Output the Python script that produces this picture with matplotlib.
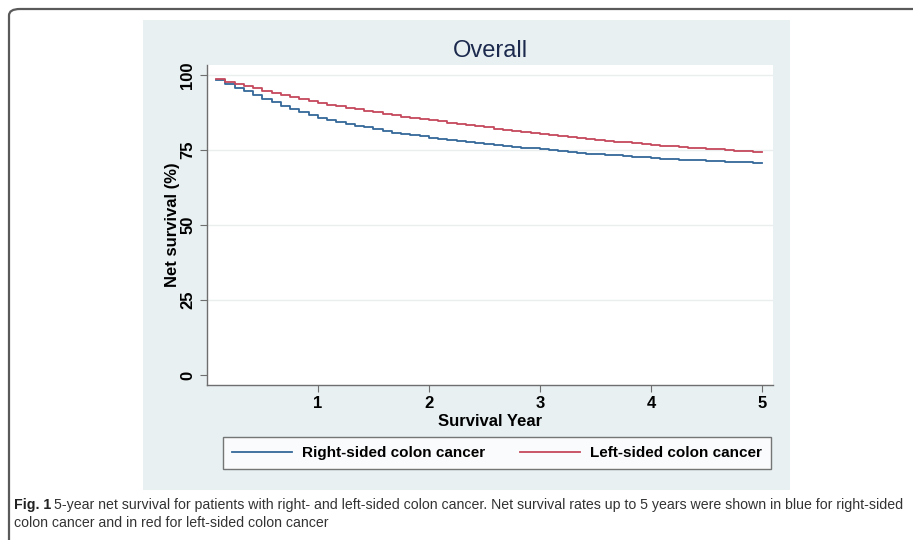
import numpy as np
import matplotlib
matplotlib.use("Agg")
import matplotlib.pyplot as plt
from matplotlib.patches import Rectangle, FancyBboxPatch

plt.rcParams['font.family'] = ['Liberation Sans', 'DejaVu Sans']

# net survival (%) at the end of each month, months 1..60
months = np.arange(1, 61)
right_sided = [98.3, 97.0, 95.7, 94.5, 93.3, 92.1, 90.9, 89.8, 88.7, 87.6, 86.6, 85.6,
               84.9, 84.3, 83.7, 83.1, 82.6, 81.9, 81.3, 80.8, 80.3, 79.9, 79.5, 79.1,
               78.7, 78.3, 77.9, 77.6, 77.3, 77.0, 76.7, 76.4, 76.1, 75.8, 75.5, 75.2,
               74.9, 74.6, 74.3, 74.1, 73.8, 73.6, 73.4, 73.2, 72.9, 72.7, 72.5, 72.3,
               72.1, 72.0, 71.8, 71.7, 71.5, 71.4, 71.3, 71.1, 71.0, 70.9, 70.7, 70.6]
left_sided = [98.6, 97.8, 97.0, 96.2, 95.5, 94.8, 94.0, 93.3, 92.6, 91.9, 91.2, 90.6,
              90.0, 89.5, 89.0, 88.5, 88.0, 87.5, 87.0, 86.6, 86.1, 85.7, 85.3, 84.9,
              84.5, 84.1, 83.7, 83.3, 82.9, 82.5, 82.1, 81.7, 81.3, 80.9, 80.6, 80.2,
              79.9, 79.6, 79.3, 79.0, 78.7, 78.4, 78.1, 77.8, 77.5, 77.2, 76.9, 76.6,
              76.4, 76.2, 76.0, 75.8, 75.6, 75.4, 75.2, 75.0, 74.8, 74.6, 74.4, 74.2]
years = months / 12.0

W, H = 913, 540
fig = plt.figure(figsize=(W / 100, H / 100), dpi=100)

def fx(px):
    return px / W

def fy(py):
    return 1 - py / H

# outer frame with rounded corner
fig.patches.append(FancyBboxPatch((fx(9), fy(560)), fx(940), 551 / H,
                                  boxstyle="round,pad=0,rounding_size=0.012",
                                  transform=fig.transFigure, facecolor='white',
                                  edgecolor='#5a5a5a', lw=1.6, zorder=-2))
# graph region background
fig.patches.append(Rectangle((fx(143), fy(490)), fx(790 - 143), 470 / H,
                             transform=fig.transFigure, facecolor='#e8f0f2',
                             edgecolor='none', zorder=-1))

ax = fig.add_axes([fx(207), fy(385), fx(773 - 207), 320 / H])
ax.set_zorder(2)
ax.set_facecolor('white')

ax.step(years, right_sided, where='post', color='#35689a', lw=1.3,
        label='Right-sided colon cancer')
ax.step(years, left_sided, where='post', color='#c4485c', lw=1.3,
        label='Left-sided colon cancer')

ax.set_xlim(0, 5.1)
ax.set_ylim(-3.33, 103.33)
ax.set_xticks([1, 2, 3, 4, 5])
ax.set_yticks([0, 25, 50, 75, 100])
for yv in [25, 50, 75, 100]:
    ax.axhline(yv, color='#eaeeee', lw=1.0, zorder=0)

for s in ['top', 'right']:
    ax.spines[s].set_visible(False)
for s in ['left', 'bottom']:
    ax.spines[s].set_color('#6e6e6e')
    ax.spines[s].set_linewidth(1.0)
ax.tick_params(axis='both', direction='out', length=5, color='#6e6e6e',
               labelsize=12, labelcolor='black')
ax.tick_params(axis='x', pad=3)
for lbl in ax.get_yticklabels():
    lbl.set_rotation(90)
    lbl.set_va('center')
for lbl in ax.get_xticklabels() + ax.get_yticklabels():
    lbl.set_fontweight('bold')

ax.set_xlabel('Survival Year', fontsize=12, fontweight='bold', labelpad=2)
ax.set_ylabel('Net survival (%)', fontsize=12, fontweight='bold', labelpad=0)
ax.set_title('Overall', fontsize=17, color='#1c2a4e', pad=6)

leg = fig.legend(loc='center', bbox_to_anchor=(fx(497), fy(453)), ncol=2,
                 fontsize=11, frameon=True, fancybox=False, handlelength=3.9,
                 columnspacing=2.3, borderpad=0.6, handletextpad=0.65)
leg.get_frame().set_edgecolor('#555555')
leg.get_frame().set_linewidth(1.0)
leg.get_frame().set_facecolor('white')
for t in leg.get_texts():
    t.set_fontweight('bold')

cap1 = fig.text(fx(14), fy(505), 'Fig. 1', fontsize=10.2, fontweight='bold',
                va='center', ha='left', color='#222222')
fig.canvas.draw()
bb = cap1.get_window_extent()
fig.text((bb.x1 + 3) / W, fy(505),
         '5-year net survival for patients with right- and left-sided colon cancer. '
         'Net survival rates up to 5 years were shown in blue for right-sided',
         fontsize=10.2, va='center', ha='left', color='#333333')
fig.text(fx(14), fy(523), 'colon cancer and in red for left-sided colon cancer',
         fontsize=10.2, va='center', ha='left', color='#333333')

fig.savefig('out.png', dpi=100)
